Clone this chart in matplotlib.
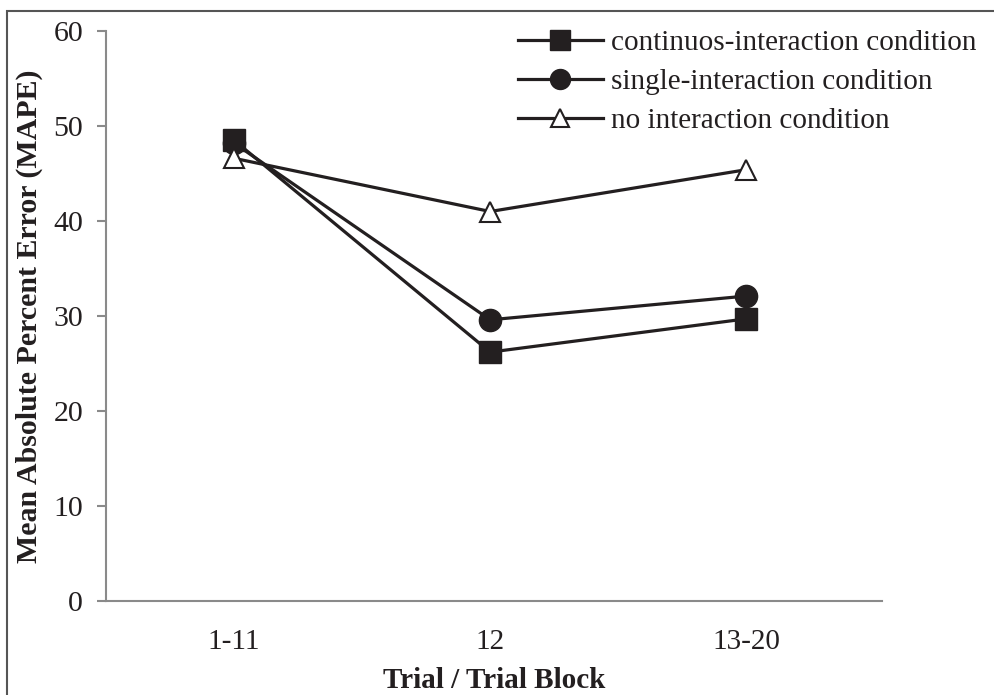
import matplotlib
matplotlib.use("Agg")
import matplotlib.pyplot as plt
from matplotlib.patches import Rectangle

categories = ["1-11", "12", "13-20"]
continuous = [48.5, 26.2, 29.7]
single = [48.2, 29.6, 32.1]
no_interaction = [46.6, 41.0, 45.4]
labels = ["continuos-interaction condition", "single-interaction condition", "no interaction condition"]
yticks = [0, 10, 20, 30, 40, 50, 60]

plt.rcParams['font.family'] = ['Liberation Serif', 'DejaVu Serif']
dark = '#231f20'
gray = '#8a8a8a'

fig = plt.figure(figsize=(9.95, 6.95), dpi=100)
ax = fig.add_axes([106/995, 1-601/695, (882-106)/995, (601-31)/695])

x = range(len(categories))
ax.plot(x, continuous, color=dark, lw=2.3, marker='s', ms=16, mfc=dark, mec=dark, label=labels[0], zorder=3)
ax.plot(x, single, color=dark, lw=2.3, marker='o', ms=16, mfc=dark, mec=dark, label=labels[1], zorder=3)
ax.plot(x, no_interaction, color=dark, lw=2.3, marker='^', ms=15, mfc='white', mec=dark, mew=1.5, label=labels[2], zorder=4)

ax.set_xlim(-0.5, 2.53)
ax.set_ylim(0, 60)
ax.set_yticks(yticks)
ax.set_xticks(list(x))
ax.set_xticklabels(categories)
for s in ['top', 'right']:
    ax.spines[s].set_visible(False)
for s in ['left', 'bottom']:
    ax.spines[s].set_color(gray)
    ax.spines[s].set_linewidth(1.5)
ax.tick_params(axis='y', length=6.5, width=1.5, color=gray, labelsize=21.5, pad=10, labelcolor=dark)
ax.tick_params(axis='x', length=0, labelsize=21, pad=20, labelcolor=dark)

ax.set_ylabel("Mean Absolute Percent Error (MAPE)", fontsize=21.5, fontweight='bold', color=dark, labelpad=7)
ax.set_xlabel("Trial / Trial Block", fontsize=21, fontweight='bold', color=dark, labelpad=9)

fig.legend(loc='upper left', bbox_to_anchor=(518/995, 1-30/695), frameon=False, fontsize=21,
           handlelength=2.9, handletextpad=0.3, labelspacing=0.42, borderpad=0, borderaxespad=0,
           labelcolor=dark, markerscale=0.9)

fig.patches.append(Rectangle((7/995, -0.1), 1.2, 1-11/695+0.1, transform=fig.transFigure,
                             fill=False, edgecolor='#555555', lw=1.5))

fig.savefig("out.png", dpi=100)
